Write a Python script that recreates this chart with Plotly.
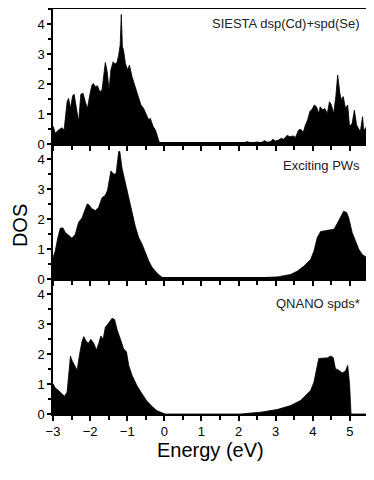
import plotly.graph_objects as go
from plotly.subplots import make_subplots

# SIESTA dsp(Cd)+spd(Se)
siesta_e = [-3.00, -2.99, -2.94, -2.85, -2.76, -2.70, -2.62, -2.58, -2.53, -2.47,
            -2.43, -2.37, -2.31, -2.25, -2.19, -2.13, -2.07, -2.01, -1.95, -1.91,
            -1.86, -1.80, -1.74, -1.68, -1.64, -1.59, -1.54, -1.49, -1.44, -1.38,
            -1.32, -1.27, -1.23, -1.19, -1.16, -1.13, -1.10, -1.05, -0.99, -0.94,
            -0.87, -0.81, -0.75, -0.69, -0.63, -0.56, -0.49, -0.42, -0.38, -0.30,
            -0.24, -0.18, -0.13, -0.12,
            1.70, 1.95, 2.10, 2.23, 2.35, 2.50, 2.60, 2.70, 2.78,
            2.86, 2.93, 2.99, 3.08, 3.15, 3.22, 3.31, 3.38, 3.47, 3.53,
            3.62, 3.68, 3.74, 3.80, 3.86, 3.92, 3.98, 4.04, 4.10, 4.16,
            4.20, 4.27, 4.32, 4.39, 4.45, 4.50, 4.56, 4.62, 4.67, 4.73,
            4.77, 4.82, 4.88, 4.94, 4.99, 5.06, 5.12, 5.18, 5.24, 5.28,
            5.34, 5.37, 5.42, 5.46]
siesta_dos = [0.52, 0.58, 0.36, 0.47, 0.54, 0.47, 1.41, 1.52, 1.19, 1.61,
              1.66, 1.19, 0.74, 1.66, 1.69, 1.41, 1.19, 1.63, 1.97, 2.02,
              1.91, 1.94, 1.74, 1.80, 2.30, 2.72, 2.41, 1.80, 2.47, 2.74,
              2.66, 2.74, 2.97, 3.30, 4.32, 3.24, 3.13, 2.69, 2.47, 2.63,
              2.24, 2.02, 1.80, 1.52, 1.30, 1.19, 0.97, 0.80, 0.86, 0.58,
              0.47, 0.24, 0.02, 0.00,
              0.00, 0.03, 0.01, 0.08, 0.03, 0.07, 0.04, 0.11, 0.06,
              0.08, 0.16, 0.10, 0.13, 0.19, 0.16, 0.29, 0.24, 0.27, 0.22,
              0.47, 0.49, 0.38, 0.63, 0.80, 1.08, 1.16, 1.30, 1.24, 1.02,
              1.24, 1.13, 1.19, 1.02, 1.41, 1.30, 1.02, 1.58, 2.30, 1.69,
              1.47, 1.58, 1.19, 1.30, 0.58, 0.69, 1.13, 0.63, 0.47, 0.41,
              0.91, 0.47, 0.52, 0.63]

# Exciting PWs
exciting_e = [-3.00, -2.94, -2.87, -2.80, -2.73, -2.67, -2.58, -2.49, -2.40, -2.31,
              -2.22, -2.16, -2.08, -2.04, -1.95, -1.86, -1.77, -1.68, -1.59, -1.53,
              -1.44, -1.36, -1.30, -1.23, -1.20, -1.14, -1.05, -0.96, -0.87, -0.78,
              -0.69, -0.60, -0.51, -0.42, -0.33, -0.20, -0.04, 0.00,
              1.87, 2.59, 3.04, 3.40, 3.58, 3.76, 3.94, 4.03, 4.12, 4.21, 4.30,
              4.39, 4.48, 4.57, 4.65, 4.74, 4.83, 4.91, 4.97, 5.06, 5.15, 5.24,
              5.33, 5.46]
exciting_dos = [0.71, 0.93, 1.38, 1.70, 1.70, 1.55, 1.46, 1.36, 1.49, 1.89,
                2.03, 2.22, 2.50, 2.48, 2.34, 2.28, 2.39, 2.71, 2.79, 2.96,
                3.60, 3.49, 3.52, 4.25, 4.25, 3.69, 3.18, 2.73, 2.26, 1.74,
                1.38, 1.16, 0.88, 0.60, 0.39, 0.20, 0.03, 0.00,
                0.00, 0.03, 0.07, 0.15, 0.26, 0.43, 0.65, 0.93, 1.38, 1.58, 1.60,
                1.63, 1.63, 1.66, 1.83, 2.03, 2.26, 2.22, 2.03, 1.55, 1.27, 0.99,
                0.82, 0.71]

# QNANO spds*
qnano_e = [-3.00, -2.94, -2.85, -2.76, -2.69, -2.62, -2.58, -2.53, -2.49, -2.42,
           -2.35, -2.28, -2.22, -2.17, -2.10, -2.04, -1.98, -1.90, -1.83, -1.77,
           -1.71, -1.65, -1.59, -1.50, -1.41, -1.34, -1.27, -1.19, -1.10, -1.02,
           -0.96, -0.87, -0.74, -0.60, -0.47, -0.33, -0.20, -0.02, 0.03,
           2.05, 2.59, 3.04, 3.40, 3.67, 3.80, 3.94, 4.03, 4.12, 4.16, 4.25,
           4.39, 4.48, 4.55, 4.61, 4.70, 4.79, 4.88, 4.94, 4.99, 5.03, 5.46]
qnano_dos = [1.01, 0.87, 0.78, 0.67, 0.59, 0.73, 1.18, 1.93, 1.79, 1.62,
             1.46, 2.02, 2.41, 2.58, 2.41, 2.37, 2.49, 2.35, 2.13, 2.35,
             2.60, 2.49, 2.89, 3.03, 3.19, 3.15, 2.80, 2.52, 2.18, 2.07,
             1.62, 1.29, 0.95, 0.67, 0.43, 0.25, 0.11, 0.02, 0.00,
             0.00, 0.06, 0.15, 0.28, 0.45, 0.62, 0.78, 1.06, 1.62, 1.85, 1.86,
             1.87, 1.93, 1.88, 1.51, 1.46, 1.37, 1.43, 1.62, 1.01, 0.00, 0.00]

labels = ["SIESTA dsp(Cd)+spd(Se)", "Exciting PWs", "QNANO spds*"]
label_y = [0.89, 0.84, 0.82]

fig = make_subplots(rows=3, cols=1, shared_xaxes=True, vertical_spacing=0)

series = [(siesta_e, siesta_dos), (exciting_e, exciting_dos), (qnano_e, qnano_dos)]
for i, (e, d) in enumerate(series, start=1):
    fig.add_trace(go.Scatter(x=e, y=d, mode="lines", fill="tozeroy",
                             fillcolor="black", line=dict(color="black", width=0.8),
                             showlegend=False), row=i, col=1)
    fig.update_yaxes(range=[0, 4.5], dtick=1, tick0=0, ticks="outside", ticklen=4,
                     tickwidth=1.5, tickcolor="black", showline=True, linewidth=1.5,
                     linecolor="black", mirror=True, showgrid=False, zeroline=False,
                     automargin=False,
                     minor=dict(ticks="outside", dtick=0.5, ticklen=3, tickwidth=1.5,
                                tickcolor="black"),
                     row=i, col=1)
    fig.update_xaxes(range=[-3, 5.46], dtick=1, tick0=0, ticks="outside", ticklen=5,
                     tickwidth=1.5, tickcolor="black", showline=True, linewidth=1.5,
                     linecolor="black", mirror=True, showgrid=False, zeroline=False,
                     automargin=False,
                     minor=dict(ticks="outside", dtick=0.5, ticklen=4, tickwidth=1.5,
                                tickcolor="black"),
                     row=i, col=1)
    xr = "x domain" if i == 1 else f"x{i} domain"
    yr = "y domain" if i == 1 else f"y{i} domain"
    fig.add_annotation(text=labels[i - 1], xref=xr, yref=yr, x=0.985, y=label_y[i - 1],
                       xanchor="right", yanchor="middle", showarrow=False,
                       font=dict(size=13, color="#222"))

# axis titles as paper annotations
fig.add_annotation(text="Energy (eV)", xref="paper", yref="paper", x=0.5, y=-0.089,
                   showarrow=False, font=dict(size=20, color="black"),
                   xanchor="center", yanchor="middle")
fig.add_annotation(text="DOS", xref="paper", yref="paper", x=-0.107, y=0.465,
                   textangle=-90, showarrow=False, font=dict(size=20, color="black"),
                   xanchor="center", yanchor="middle")

# page has an 8px offset, so the figure is sized to fit inside the window
fig.update_layout(width=366, height=472,
                  margin=dict(l=45, r=7, t=1, b=66, autoexpand=False),
                  plot_bgcolor="white", paper_bgcolor="white",
                  font=dict(family="Liberation Sans, Arial, sans-serif", size=13, color="black"))

fig.write_html("out.html")
